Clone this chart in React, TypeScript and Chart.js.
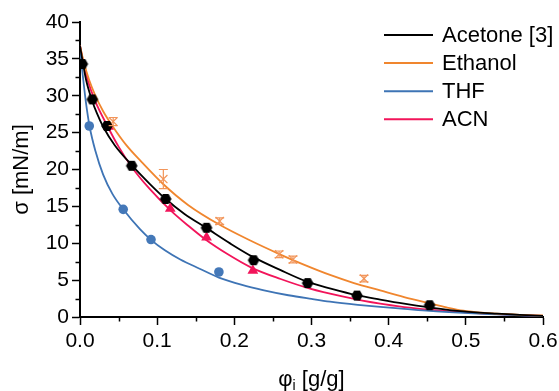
import { useEffect, useRef } from "react";
import { Chart, registerables } from "chart.js";

Chart.register(...registerables);

// ---------- data ----------
const seriesNames = ["Acetone [3]", "Ethanol", "THF", "ACN"];
const lineColors = ["#000000", "#F0862E", "#3E74B5", "#F2145A"];
const markerColors = ["#000000", "#F2955A", "#4478B8", "#F2145A"];

// measured points
const acetoneX = [0.003, 0.016, 0.035, 0.067, 0.111, 0.164, 0.225, 0.295, 0.359, 0.453];
const acetoneY = [34.3, 29.5, 25.9, 20.5, 16.0, 12.1, 7.7, 4.6, 2.9, 1.6];
const ethanolX = [0.043, 0.108, 0.181, 0.258, 0.276, 0.368];
const ethanolY = [26.5, 18.7, 13.0, 8.5, 7.8, 5.2];
const ethanolErr = [0.55, 1.3, 0.45, 0.45, 0.45, 0.45];
const thfX = [0.012, 0.056, 0.092, 0.18];
const thfY = [25.9, 14.6, 10.5, 6.1];
const acnX = [0.037, 0.117, 0.164, 0.224];
const acnY = [25.8, 14.7, 10.8, 6.3];

// fitted curves
const acetoneFitX = [0, 0.004, 0.008, 0.0155, 0.022, 0.03, 0.045, 0.068, 0.09, 0.11, 0.135, 0.164, 0.195, 0.224, 0.26, 0.294, 0.325, 0.359, 0.389, 0.42, 0.453, 0.497, 0.54, 0.57, 0.6];
const acetoneFitY = [36.8, 34.3, 32.1, 29.4, 27.6, 25.8, 23.3, 20.5, 18.1, 16.1, 14.0, 12.05, 9.95, 8.15, 6.35, 4.8, 3.85, 2.95, 2.36, 1.8, 1.3, 0.75, 0.45, 0.3, 0.15];
const ethanolFitX = [0, 0.005, 0.012, 0.02, 0.03, 0.042, 0.06, 0.08, 0.108, 0.14, 0.181, 0.22, 0.259, 0.29, 0.324, 0.355, 0.389, 0.42, 0.453, 0.475, 0.497, 0.52, 0.54, 0.57, 0.6];
const ethanolFitY = [36.8, 34.5, 32.1, 30.0, 27.9, 25.9, 23.3, 21.0, 18.0, 15.2, 12.5, 10.4, 8.5, 7.1, 5.7, 4.6, 3.6, 2.7, 1.85, 1.3, 0.85, 0.6, 0.45, 0.3, 0.2];
const thfFitX = [0, 0.002, 0.0043, 0.0078, 0.0125, 0.02, 0.03, 0.042, 0.056, 0.0777, 0.0916, 0.11, 0.13, 0.155, 0.18, 0.21, 0.237, 0.27, 0.3, 0.324, 0.36, 0.389, 0.42, 0.453, 0.497, 0.54, 0.57, 0.6];
const thfFitY = [36.5, 34.3, 32.1, 29.0, 25.8, 22.5, 19.3, 16.7, 14.6, 11.9, 10.5, 9.05, 7.8, 6.55, 5.35, 4.35, 3.65, 2.95, 2.45, 2.08, 1.65, 1.36, 1.1, 0.82, 0.55, 0.35, 0.22, 0.1];
const acnFitX = [0, 0.005, 0.01, 0.02, 0.036, 0.05, 0.067, 0.09, 0.117, 0.14, 0.164, 0.19, 0.222, 0.26, 0.298, 0.34, 0.389, 0.42, 0.453, 0.5, 0.54, 0.57, 0.6];
const acnFitY = [36.8, 34.2, 32.1, 29.2, 25.8, 23.1, 20.35, 17.4, 14.5, 12.4, 10.4, 8.6, 6.7, 5.15, 3.85, 2.8, 1.8, 1.35, 1.0, 0.62, 0.38, 0.25, 0.15];

// axes
const xMin = 0;
const xMax = 0.6;
const xStep = 0.1;
const yMin = 0;
const yMax = 40;
const yStep = 5;
const xMinorTicks = [0.05, 0.15, 0.25, 0.35, 0.45, 0.55];
const yMinorTicks = [2.5, 7.5, 12.5, 17.5, 22.5, 27.5, 32.5, 37.5];
const yTitle = "σ [mN/m]";
const xTitleMain = "φ";
const xTitleSub = "i";
const xTitleRest = " [g/g]";

const FONT = "'Liberation Sans', Arial, Helvetica, sans-serif";

const zip = (xs: number[], ys: number[]) => xs.map((x, i) => ({ x, y: ys[i] }));

function makeHexagon(color: string, r: number) {
  const c = document.createElement("canvas");
  const size = Math.ceil(r * 2) + 2;
  c.width = size;
  c.height = size;
  const ctx = c.getContext("2d")!;
  ctx.fillStyle = color;
  ctx.beginPath();
  for (let i = 0; i < 6; i++) {
    const a = (Math.PI / 3) * i;
    const px = size / 2 + r * Math.cos(a);
    const py = size / 2 + r * Math.sin(a);
    if (i === 0) ctx.moveTo(px, py);
    else ctx.lineTo(px, py);
  }
  ctx.closePath();
  ctx.fill();
  return c;
}

export default function App() {
  const ref = useRef<HTMLCanvasElement | null>(null);

  useEffect(() => {
    if (!ref.current) return;
    const hex = makeHexagon(markerColors[0], 5.8);

    const overlay = {
      id: "overlay",
      afterDatasetsDraw(chart: any) {
        const ctx = chart.ctx;
        const xs = chart.scales.x;
        const ys = chart.scales.y;
        ctx.save();
        ctx.strokeStyle = markerColors[1];
        ctx.lineWidth = 1.2;
        ethanolX.forEach((xv, i) => {
          const px = xs.getPixelForValue(xv);
          const p1 = ys.getPixelForValue(ethanolY[i] + ethanolErr[i]);
          const p2 = ys.getPixelForValue(ethanolY[i] - ethanolErr[i]);
          ctx.beginPath();
          ctx.moveTo(px, p1);
          ctx.lineTo(px, p2);
          ctx.moveTo(px - 4.5, p1);
          ctx.lineTo(px + 4.5, p1);
          ctx.moveTo(px - 4.5, p2);
          ctx.lineTo(px + 4.5, p2);
          ctx.stroke();
        });
        ctx.restore();
      },
      afterDraw(chart: any) {
        const ctx = chart.ctx;
        const xs = chart.scales.x;
        const ys = chart.scales.y;
        const area = chart.chartArea;
        ctx.save();
        ctx.strokeStyle = "#000";
        ctx.lineWidth = 1.5;
        ctx.beginPath();
        xMinorTicks.forEach((v) => {
          const px = Math.round(xs.getPixelForValue(v)) + 0.5;
          ctx.moveTo(px, area.bottom);
          ctx.lineTo(px, area.bottom + 4.5);
        });
        yMinorTicks.forEach((v) => {
          const py = Math.round(ys.getPixelForValue(v)) + 0.5;
          ctx.moveTo(area.left, py);
          ctx.lineTo(area.left - 4.5, py);
        });
        ctx.stroke();

        ctx.fillStyle = "#000";
        ctx.font = `22px ${FONT}`;
        ctx.save();
        ctx.translate(27.5, (area.top + area.bottom) / 2);
        ctx.rotate(-Math.PI / 2);
        ctx.textAlign = "center";
        ctx.textBaseline = "alphabetic";
        ctx.fillText(yTitle, 0, 0);
        ctx.restore();

        const baseY = 386;
        ctx.font = `22px ${FONT}`;
        const wMain = ctx.measureText(xTitleMain).width;
        const wRest = ctx.measureText(xTitleRest).width;
        ctx.font = `14px ${FONT}`;
        const wSub = ctx.measureText(xTitleSub).width;
        const total = wMain + wSub + wRest;
        let tx = (area.left + area.right) / 2 - total / 2;
        ctx.textAlign = "left";
        ctx.textBaseline = "alphabetic";
        ctx.font = `22px ${FONT}`;
        ctx.fillText(xTitleMain, tx, baseY);
        tx += wMain;
        ctx.font = `14px ${FONT}`;
        ctx.fillText(xTitleSub, tx, baseY + 4);
        tx += wSub;
        ctx.font = `22px ${FONT}`;
        ctx.fillText(xTitleRest, tx, baseY);

        const lx0 = area.right - 159;
        const lx1 = lx0 + 49;
        const ly0 = area.top + 13;
        const dy = 28.1;
        ctx.font = `22px ${FONT}`;
        ctx.textBaseline = "middle";
        seriesNames.forEach((name, i) => {
          const y = ly0 + i * dy;
          ctx.strokeStyle = lineColors[i];
          ctx.lineWidth = 2;
          ctx.beginPath();
          ctx.moveTo(lx0, y);
          ctx.lineTo(lx1, y);
          ctx.stroke();
          ctx.fillStyle = "#000";
          ctx.fillText(name, lx1 + 9, y + 1);
        });
        ctx.restore();
      },
    };

    const lineDs = (data: { x: number; y: number }[], color: string) => ({
      data,
      showLine: true,
      borderColor: color,
      backgroundColor: color,
      borderWidth: 1.8,
      pointRadius: 0,
      cubicInterpolationMode: "monotone" as const,
      order: 2,
    });

    const chart = new Chart(ref.current, {
      type: "scatter",
      data: {
        datasets: [
          lineDs(zip(acetoneFitX, acetoneFitY), lineColors[0]),
          lineDs(zip(ethanolFitX, ethanolFitY), lineColors[1]),
          lineDs(zip(thfFitX, thfFitY), lineColors[2]),
          lineDs(zip(acnFitX, acnFitY), lineColors[3]),
          {
            data: zip(thfX, thfY),
            pointStyle: "circle",
            pointRadius: 4.8,
            backgroundColor: markerColors[2],
            borderColor: markerColors[2],
            borderWidth: 0,
            order: 1,
          },
          {
            data: zip(acnX, acnY),
            pointStyle: "triangle",
            pointRadius: 6.2,
            backgroundColor: markerColors[3],
            borderColor: markerColors[3],
            borderWidth: 0,
            order: 1,
          },
          {
            data: zip(ethanolX, ethanolY),
            pointStyle: "crossRot",
            pointRadius: 5.8,
            backgroundColor: markerColors[1],
            borderColor: markerColors[1],
            borderWidth: 1.2,
            order: 1,
          },
          {
            data: zip(acetoneX, acetoneY),
            pointStyle: hex as any,
            pointRadius: 5.8,
            backgroundColor: markerColors[0],
            borderColor: markerColors[0],
            order: 0,
          },
        ],
      },
      options: {
        responsive: false,
        animation: false,
        events: [],
        devicePixelRatio: 1,
        layout: { padding: { top: 22, right: 16, bottom: 0, left: 0 } },
        plugins: {
          legend: { display: false },
          tooltip: { enabled: false },
        },
        scales: {
          x: {
            type: "linear",
            min: xMin,
            max: xMax,
            afterFit: (s: any) => {
              s.height = 74;
              s.paddingLeft = 0;
              s.paddingRight = 0;
            },
            ticks: {
              stepSize: xStep,
              padding: 4,
              color: "#000",
              font: { family: FONT, size: 21 },
              maxRotation: 0,
              callback: (v: any) => Number(v).toFixed(1),
            },
            grid: {
              display: true,
              drawOnChartArea: false,
              drawTicks: true,
              tickLength: 8,
              tickWidth: 1.5,
              tickColor: "#000",
              color: "#000",
            },
            border: { display: true, color: "#000", width: 2 },
          },
          y: {
            type: "linear",
            min: yMin,
            max: yMax,
            afterFit: (s: any) => {
              s.width = 80;
              s.paddingTop = 0;
              s.paddingBottom = 0;
            },
            ticks: {
              stepSize: yStep,
              padding: 3,
              color: "#000",
              font: { family: FONT, size: 21 },
              callback: (v: any) => String(v),
            },
            grid: {
              display: true,
              drawOnChartArea: false,
              drawTicks: true,
              tickLength: 8,
              tickWidth: 1.5,
              tickColor: "#000",
              color: "#000",
            },
            border: { display: true, color: "#000", width: 2 },
          },
        },
      },
      plugins: [overlay],
    } as any);

    return () => chart.destroy();
  }, []);

  return (
    <div style={{ position: "absolute", left: 0, top: 0, width: 559, height: 391, background: "#fff" }}>
      <canvas ref={ref} width={559} height={391} style={{ display: "block", width: 559, height: 391 }} />
    </div>
  );
}
